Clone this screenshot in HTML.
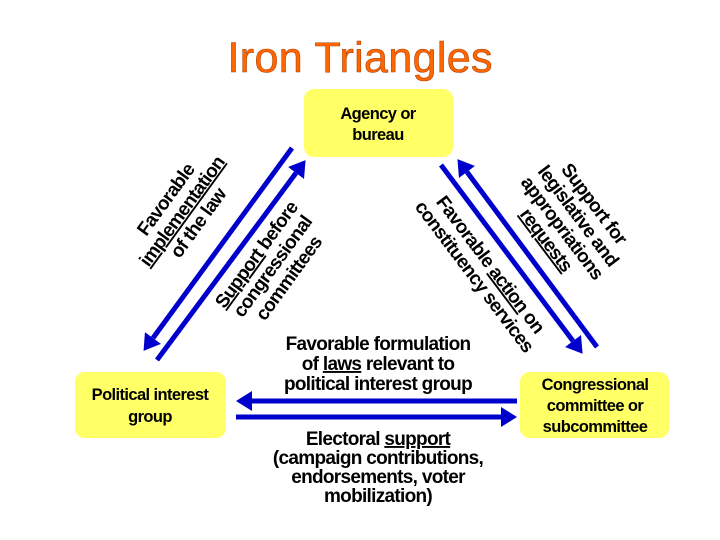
<!DOCTYPE html>
<html><head><meta charset="utf-8"><style>
html,body{margin:0;padding:0;background:#fff;width:720px;height:540px;overflow:hidden}
svg text{font-family:"Liberation Sans",Arial,sans-serif;font-weight:bold;fill:#000}
.l{font-size:19px;letter-spacing:-0.7px}
.b{font-size:16.5px;letter-spacing:-0.6px}
</style></head><body>
<svg width="720" height="540" viewBox="0 0 720 540" xmlns="http://www.w3.org/2000/svg">
<defs>
<marker id="ah" markerWidth="4" markerHeight="4" refX="0" refY="2" orient="auto" markerUnits="strokeWidth"><path d="M0,0 L3.2,2 L0,4 Z" fill="#0000cc"/></marker>
</defs>
<text x="360" y="72" text-anchor="middle" style="font-size:43px;font-weight:normal;fill:#ff6600;stroke:#b04000;stroke-width:0.6" textLength="265">Iron Triangles</text>

<rect x="304" y="89" width="149" height="68" rx="10" fill="#ffff66"/>
<text class="b" x="378" y="119" text-anchor="middle">Agency or</text>
<text class="b" x="378" y="140" text-anchor="middle">bureau</text>

<rect x="75" y="372" width="151" height="66" rx="10" fill="#ffff66"/>
<text class="b" x="150" y="400" text-anchor="middle">Political interest</text>
<text class="b" x="150" y="422" text-anchor="middle">group</text>

<rect x="520" y="372" width="149" height="66" rx="10" fill="#ffff66"/>
<text class="b" x="595" y="390" text-anchor="middle">Congressional</text>
<text class="b" x="595" y="411" text-anchor="middle">committee or</text>
<text class="b" x="595" y="432" text-anchor="middle">subcommittee</text>

<g stroke="#0000cc" stroke-width="5" fill="none">
<line x1="292" y1="148" x2="153" y2="338" marker-end="url(#ah)"/>
<line x1="157" y1="360" x2="296" y2="173" marker-end="url(#ah)"/>
<line x1="441" y1="165" x2="573" y2="341" marker-end="url(#ah)"/>
<line x1="597" y1="347" x2="467" y2="172" marker-end="url(#ah)"/>
<line x1="517" y1="401" x2="252" y2="401" marker-end="url(#ah)"/>
<line x1="236" y1="417" x2="501" y2="417" marker-end="url(#ah)"/>
</g>

<g transform="translate(183,212) rotate(-54)">
<text class="l" x="0" y="-15" text-anchor="middle">Favorable</text>
<text class="l" x="0" y="5" text-anchor="middle" text-decoration="underline">implementation</text>
<text class="l" x="0" y="25" text-anchor="middle">of the law</text>
</g>
<g transform="translate(272,266) rotate(-54)">
<text class="l" x="0" y="-13" text-anchor="middle"><tspan text-decoration="underline">Support</tspan> before</text>
<text class="l" x="0" y="7" text-anchor="middle">congressional</text>
<text class="l" x="0" y="27" text-anchor="middle">committees</text>
</g>
<g transform="translate(483,270) rotate(53)">
<text class="l" x="0" y="-3" text-anchor="middle">Favorable <tspan text-decoration="underline">action</tspan> on</text>
<text class="l" x="0" y="17" text-anchor="middle">constituency services</text>
</g>
<g transform="translate(570,222) rotate(53)">
<text class="l" x="0" y="-24" text-anchor="middle">Support for</text>
<text class="l" x="0" y="-4" text-anchor="middle">legislative and</text>
<text class="l" x="0" y="16" text-anchor="middle">appropriations</text>
<text class="l" x="0" y="36" text-anchor="middle" text-decoration="underline">requests</text>
</g>

<text class="l" x="378" y="350" text-anchor="middle">Favorable formulation</text>
<text class="l" x="378" y="370" text-anchor="middle">of <tspan text-decoration="underline">laws</tspan> relevant to</text>
<text class="l" x="378" y="390" text-anchor="middle">political interest group</text>

<text class="l" x="378" y="445" text-anchor="middle">Electoral <tspan text-decoration="underline">support</tspan></text>
<text class="l" x="378" y="464" text-anchor="middle">(campaign contributions,</text>
<text class="l" x="378" y="483" text-anchor="middle">endorsements, voter</text>
<text class="l" x="378" y="502" text-anchor="middle">mobilization)</text>
</svg>
</body></html>
